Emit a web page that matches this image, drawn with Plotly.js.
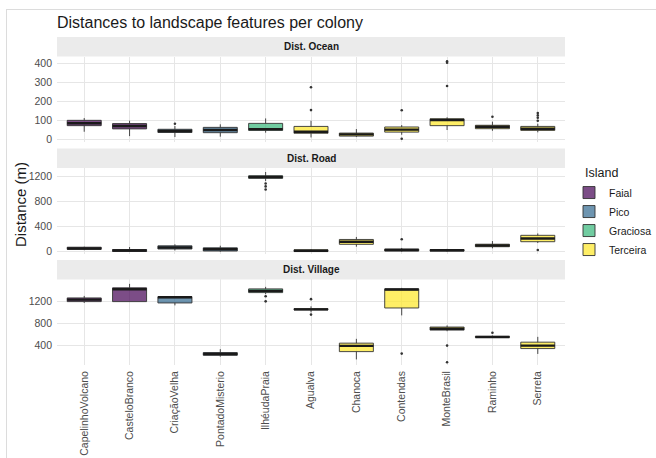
<!DOCTYPE html>
<html>
<head>
<meta charset="utf-8">
<script src="https://cdn.plot.ly/plotly-3.0.1.min.js"></script>
<style>
  html, body { margin: 0; padding: 0; background: #fff; }
  #wrap { position: relative; width: 656px; height: 458px; overflow: hidden; }
  #chart { position: absolute; left: 0; top: 0; width: 656px; height: 458px; }
  #frame { position: absolute; left: 6px; top: 9px; right: -2px; bottom: -2px;
           border-top: 1px solid #dcdcdc; border-left: 1px solid #dcdcdc; pointer-events: none; }
</style>
</head>
<body>
<div id="wrap"><div id="chart"></div><div id="frame"></div></div>
<script>
// Colonies (x categories) and the island each one belongs to
const colonies = ["CapelinhoVolcano", "CasteloBranco", "CriaçãoVelha", "PontadoMisterio", "IlhéudaPraia",
                  "Agualva", "Chanoca", "Contendas", "MonteBrasil", "Raminho", "Serreta"];
const colonyIsland = ["Faial", "Faial", "Pico", "Pico", "Graciosa",
                      "Terceira", "Terceira", "Terceira", "Terceira", "Terceira", "Terceira"];
const islands = ["Faial", "Pico", "Graciosa", "Terceira"];
const islandFill = ["rgba(68,1,84,0.7)", "rgba(49,104,142,0.7)", "rgba(53,183,121,0.7)", "rgba(253,231,37,0.7)"];

// Distance to the ocean (m): box statistics per colony
const oceanLow    = [40, 17, 12, 14, 35, 10, 12, 24, 49, 45, 37];
const oceanQ1     = [72, 55, 36, 35, 47, 32, 17, 38, 72, 56, 47];
const oceanMedian = [85, 70, 44, 49, 54, 40, 26, 51, 102, 66, 56];
const oceanQ3     = [100, 83, 53, 63, 84, 68, 33, 65, 108, 74, 68];
const oceanHigh   = [112, 98, 70, 79, 110, 98, 54, 75, 116, 93, 82];
const oceanOutColony = ["CriaçãoVelha", "Agualva", "Agualva", "Contendas", "Contendas", "MonteBrasil", "MonteBrasil",
                        "MonteBrasil", "Raminho", "Serreta", "Serreta", "Serreta", "Serreta"];
const oceanOutValue  = [82, 154, 274, 153, 3, 281, 403, 411, 119, 98, 114, 126, 138];

// Distance to the nearest road (m)
const roadLow    = [25, 0, 20, 0, 1130, 0, 80, 0, 0, 54, 140];
const roadQ1     = [38, 4, 43, 11, 1174, 2, 118, 11, 10, 80, 160];
const roadMedian = [52, 18, 68, 40, 1195, 14, 158, 26, 22, 100, 212];
const roadQ3     = [72, 35, 94, 62, 1214, 30, 196, 42, 34, 120, 262];
const roadHigh   = [80, 75, 118, 96, 1275, 40, 236, 60, 45, 170, 292];
const roadOutColony = ["IlhéudaPraia", "IlhéudaPraia", "IlhéudaPraia", "Contendas", "Serreta"];
const roadOutValue  = [1090, 1045, 995, 198, 27];

// Distance to the nearest village (m)
const villageLow    = [1171, 1195, 1127, 200, 1330, 1000, 150, 946, 660, 540, 249];
const villageQ1     = [1195, 1195, 1171, 225, 1358, 1045, 291, 1080, 680, 548, 346];
const villageMedian = [1231, 1418, 1273, 249, 1389, 1055, 395, 1413, 704, 556, 400];
const villageQ3     = [1262, 1444, 1285, 273, 1425, 1068, 444, 1425, 735, 566, 462];
const villageHigh   = [1298, 1516, 1295, 335, 1462, 1110, 522, 1443, 764, 580, 558];
const villageOutColony = ["IlhéudaPraia", "IlhéudaPraia", "Agualva", "Agualva", "Contendas", "MonteBrasil", "MonteBrasil", "Raminho"];
const villageOutValue  = [1291, 1200, 1240, 960, 255, 400, 98, 631];

const panelTitles = ["Dist. Ocean", "Dist. Road", "Dist. Village"];
const panelTicks  = [[0, 100, 200, 300, 400], [0, 400, 800, 1200], [400, 800, 1200]];
const panelRanges = [[-14, 436], [-29, 1339], [49, 1595]];

const panels = [
  {low: oceanLow, q1: oceanQ1, med: oceanMedian, q3: oceanQ3, high: oceanHigh, outX: oceanOutColony, outY: oceanOutValue},
  {low: roadLow, q1: roadQ1, med: roadMedian, q3: roadQ3, high: roadHigh, outX: roadOutColony, outY: roadOutValue},
  {low: villageLow, q1: villageQ1, med: villageMedian, q3: villageQ3, high: villageHigh, outX: villageOutColony, outY: villageOutValue}
];

// Panel and strip placement (paper fractions, top panel first)
const panelDomains = [[0.6799, 0.9405], [0.3399, 0.6006], [0, 0.2607]];
const stripDomains = [[0.9405, 1], [0.6006, 0.6601], [0.2607, 0.3201]];

const FONT = "Liberation Sans, Arial, sans-serif";
const GRID = "#E6E6E6";
const traces = [];

panels.forEach((pd, p) => {
  const sfx = p === 0 ? "" : String(p + 1);
  const xa = "x" + sfx, ya = "y" + sfx;
  islands.forEach((isl, k) => {
    const idx = colonies.map((c, i) => i).filter(i => colonyIsland[i] === isl);
    traces.push({
      type: "box",
      name: isl,
      legendgroup: isl,
      showlegend: p === 0,
      xaxis: xa, yaxis: ya,
      x: idx.map(i => colonies[i]),
      q1: idx.map(i => pd.q1[i]),
      median: idx.map(i => pd.med[i]),
      q3: idx.map(i => pd.q3[i]),
      lowerfence: idx.map(i => pd.low[i]),
      upperfence: idx.map(i => pd.high[i]),
      boxpoints: false,
      width: 0.75,
      whiskerwidth: 0,
      fillcolor: islandFill[k],
      line: {color: "#333333", width: 0.9},
      hoverinfo: "skip"
    });
  });
  // heavier median bars, as in ggplot boxplots
  traces.push({
    type: "scatter", mode: "markers", showlegend: false, hoverinfo: "skip",
    xaxis: xa, yaxis: ya,
    x: colonies, y: pd.med,
    marker: {symbol: "line-ew", size: 24.3, color: "#1a1a1a", line: {color: "#1a1a1a", width: 2.4}}
  });
  // outlying points
  traces.push({
    type: "scatter", mode: "markers", showlegend: false, hoverinfo: "skip",
    xaxis: xa, yaxis: ya,
    x: pd.outX, y: pd.outY,
    marker: {size: 2.6, color: "#333333"}
  });
});

const layout = {
  width: 656, height: 458,
  margin: {l: 57, r: 91, t: 37, b: 93, pad: 0, autoexpand: false},
  paper_bgcolor: "rgba(0,0,0,0)", plot_bgcolor: "#ffffff",
  font: {family: FONT, size: 10.5, color: "#4D4D4D"},
  boxmode: "overlay",
  title: {
    text: "Distances to landscape features per colony",
    font: {family: FONT, size: 16, color: "#1a1a1a"},
    xref: "container", x: 57 / 656, xanchor: "left",
    yref: "container", y: 1 - 22.5 / 458, yanchor: "middle"
  },
  legend: {
    font: {family: FONT, size: 10.5, color: "#1a1a1a"},
    x: 1.0079, xanchor: "left", y: 0.570, yanchor: "top",
    itemwidth: 30,
    bgcolor: "rgba(0,0,0,0)", tracegroupgap: 0
  },
  shapes: [],
  annotations: [
    {text: "Distance (m)", textangle: -90, showarrow: false,
     xref: "paper", yref: "paper", x: -0.0728, y: 0.4878, xanchor: "center", yanchor: "middle",
     font: {family: FONT, size: 15, color: "#1a1a1a"}},
    {text: "Island", showarrow: false,
     xref: "paper", yref: "paper", x: 1.0354, y: 0.585, xanchor: "left", yanchor: "middle",
     font: {family: FONT, size: 12.5, color: "#1a1a1a"}}
  ]
};

panelTitles.forEach((t, p) => {
  const sfx = p === 0 ? "" : String(p + 1);
  layout["xaxis" + sfx] = {
    domain: [0, 1], anchor: "y" + sfx,
    type: "category", categoryorder: "array", categoryarray: colonies,
    range: [-0.6, 10.6],
    showgrid: true, gridcolor: GRID, gridwidth: 1,
    zeroline: false, showline: false, ticks: "",
    showticklabels: p === 2,
    tickangle: -90, ticklabelstandoff: 3,
    tickfont: {family: FONT, size: 10.5, color: "#4D4D4D"},
    fixedrange: true
  };
  if (p > 0) layout["xaxis" + sfx].matches = "x";
  layout["yaxis" + sfx] = {
    domain: panelDomains[p], anchor: "x" + sfx,
    range: panelRanges[p],
    tickmode: "array", tickvals: panelTicks[p],
    showgrid: true, gridcolor: GRID, gridwidth: 1,
    zeroline: false, showline: false, ticks: "", ticklabelstandoff: 4,
    tickfont: {family: FONT, size: 10.5, color: "#4D4D4D"},
    fixedrange: true
  };
  layout.shapes.push({
    type: "rect", xref: "paper", yref: "paper",
    x0: 0, x1: 1, y0: stripDomains[p][0], y1: stripDomains[p][1],
    fillcolor: "#EBEBEB", line: {width: 0}, layer: "above"
  });
  layout.annotations.push({
    text: t, showarrow: false, xref: "paper", yref: "paper",
    x: 0.5, y: (stripDomains[p][0] + stripDomains[p][1]) / 2,
    xanchor: "center", yanchor: "middle",
    font: {family: FONT, size: 10, color: "#1a1a1a", weight: "bold"}
  });
});

Plotly.newPlot("chart", traces, layout, {displayModeBar: false, staticPlot: true});
</script>
</body>
</html>
